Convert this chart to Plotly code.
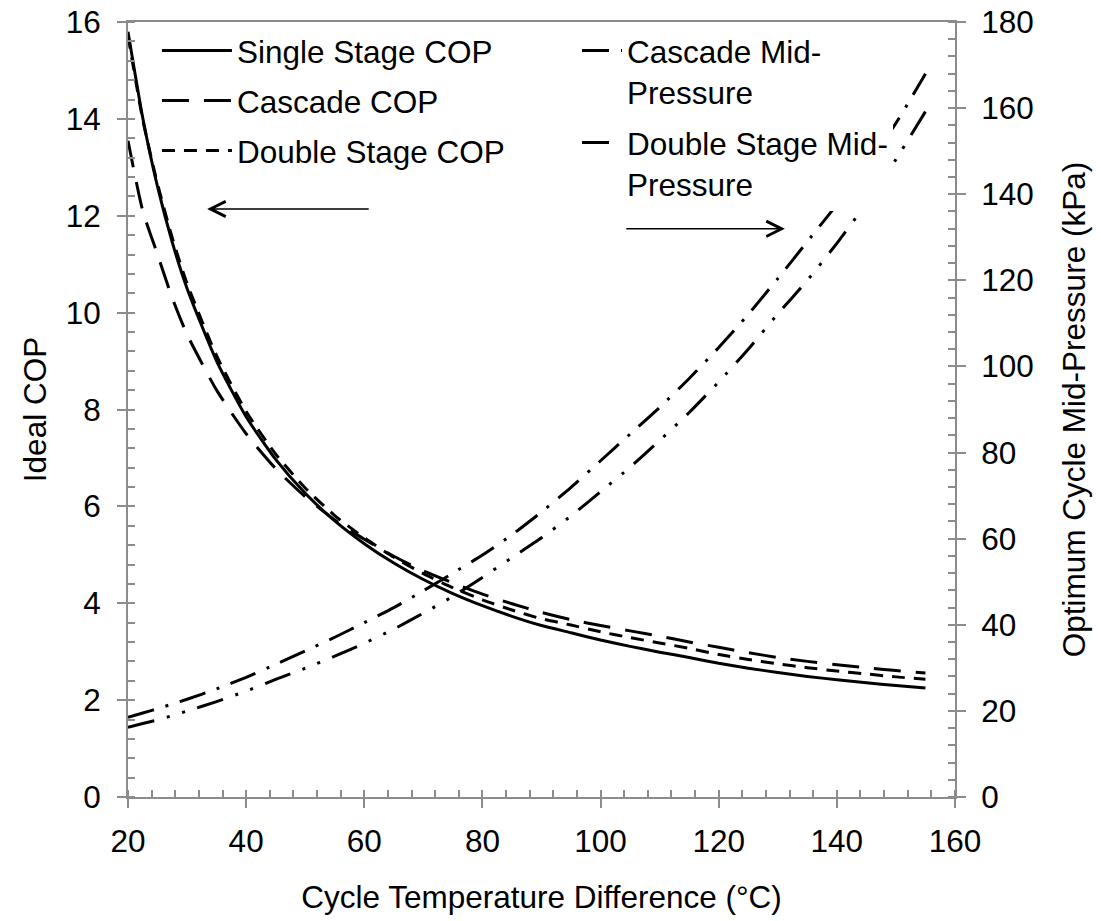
import plotly.graph_objects as go

# ---- data ----
dT = [20, 22.5, 25, 27.5, 30, 35, 40, 45, 50, 55, 60, 65, 70, 75, 80, 85, 90, 95,
      100, 105, 110, 115, 120, 125, 130, 135, 140, 145, 150, 155]
single_cop = [15.8, 14.02, 12.6, 11.45, 10.5, 9.0, 7.85, 6.97, 6.27, 5.70, 5.23, 4.83,
              4.49, 4.20, 3.95, 3.73, 3.54, 3.39, 3.24, 3.11, 2.99, 2.88, 2.76, 2.66,
              2.57, 2.49, 2.42, 2.36, 2.30, 2.25]
cascade_cop = [13.55, 12.1, 11.2, 10.3, 9.55, 8.40, 7.50, 6.78, 6.20, 5.72, 5.32, 4.97,
               4.67, 4.42, 4.19, 3.99, 3.81, 3.66, 3.54, 3.43, 3.32, 3.20, 3.09, 2.98,
               2.88, 2.80, 2.73, 2.67, 2.61, 2.56]
double_cop = [15.72, 13.98, 12.66, 11.54, 10.6, 9.11, 7.96, 7.08, 6.38, 5.81, 5.35, 4.95,
              4.61, 4.32, 4.07, 3.86, 3.68, 3.55, 3.41, 3.29, 3.18, 3.07, 2.94, 2.84,
              2.75, 2.67, 2.60, 2.54, 2.48, 2.43]
cascade_mid = [18.5, 19.5, 20.5, 21.6, 22.7, 25.1, 27.8, 30.8, 33.9, 37.1, 40.5, 44.0,
               47.9, 52.0, 56.2, 60.9, 66.2, 71.9, 78.1, 84.3, 90.5, 97.2, 104.4, 112.1,
               120.4, 129.0, 137.6, 146.5, 156.5, 168.0]
double_mid = [16.2, 17.06, 17.9, 18.9, 19.96, 22.15, 24.6, 27.3, 29.9, 32.7, 35.7, 39.0,
              42.7, 46.6, 51.0, 55.6, 60.2, 65.3, 70.9, 76.6, 82.8, 89.3, 96.4, 104.0,
              112.2, 120.0, 128.6, 137.9, 148.1, 159.2]

names = ["Single Stage COP", "Cascade COP", "Double Stage COP",
         "Cascade Mid-<br>Pressure", "Double Stage Mid-<br>Pressure"]

FONT = "Liberation Sans, Arial, sans-serif"
FS = 31.5
AX = "#8c8c8c"
LW = 3

fig = go.Figure()
cop_series = [(single_cop, "solid"), (cascade_cop, "27px,15px"), (double_cop, "13px,9px")]
for i, (vals, dash) in enumerate(cop_series):
    fig.add_trace(go.Scatter(x=dT, y=vals, mode="lines", name=names[i],
                             line=dict(color="black", width=LW, dash=dash, shape="spline", smoothing=0.6),
                             legend="legend", legendgroup=f"g{i}", xaxis="x", yaxis="y"))
mid_series = [(cascade_mid, "27px,12px,3px,12px"), (double_mid, "27px,13px,3px,13px,3px,13px")]
for j, (vals, dash) in enumerate(mid_series):
    fig.add_trace(go.Scatter(x=dT, y=vals, mode="lines", name=names[3 + j],
                             line=dict(color="black", width=LW, dash=dash, shape="spline", smoothing=0.6),
                             legend="legend2", legendgroup=f"m{j}", xaxis="x", yaxis="y2"))

common = dict(showgrid=False, zeroline=False, color="black", tickcolor=AX, tickwidth=2,
              linecolor=AX, linewidth=2, automargin=False,
              tickfont=dict(size=FS, family=FONT, color="black"))
inner = dict(ticks="inside", ticklen=8, tickcolor=AX, tickwidth=2, showticklabels=False,
             showline=False, showgrid=False, zeroline=False, automargin=False)

fig.update_layout(
    width=1101, height=921,
    margin=dict(l=128, r=146, t=22, b=124, autoexpand=False),
    paper_bgcolor="white", plot_bgcolor="rgba(0,0,0,0)",
    font=dict(family=FONT, size=FS, color="black"),
    xaxis=dict(range=[20, 160], tick0=20, dtick=20, ticks="outside", ticklen=9, showline=True,
               mirror=True, ticklabelstandoff=6,
               minor=dict(dtick=4, ticks="inside", ticklen=7, tickcolor=AX, tickwidth=2),
               title=dict(text="Cycle Temperature Difference (°C)", font=dict(size=FS), standoff=28),
               **common),
    yaxis=dict(range=[0, 16], dtick=2, ticks="outside", ticklen=9, showline=True,
               ticklabelstandoff=10,
               minor=dict(dtick=0.4, ticks="inside", ticklen=7, tickcolor=AX, tickwidth=2),
               title=dict(text="Ideal COP", font=dict(size=FS), standoff=10),
               **common),
    yaxis2=dict(range=[0, 180], dtick=20, ticks="outside", ticklen=9, showline=True,
                overlaying="y", side="right", anchor="x", ticklabelstandoff=9,
                minor=dict(dtick=4, ticks="inside", ticklen=7, tickcolor=AX, tickwidth=2),
                title=dict(text="Optimum Cycle Mid-Pressure (kPa)", font=dict(size=FS), standoff=30),
                **common),
    # inner halves of the crossing major ticks
    xaxis2=dict(range=[20, 160], tick0=20, dtick=20, overlaying="x", side="bottom", anchor="y", **inner),
    yaxis3=dict(range=[0, 16], dtick=2, overlaying="y", side="left", anchor="x", **inner),
    yaxis4=dict(range=[0, 180], dtick=20, overlaying="y", side="right", anchor="x", **inner),
    legend=dict(x=0.035, y=0.998, xanchor="left", yanchor="top", bgcolor="white",
                font=dict(size=FS, family=FONT), itemwidth=70, tracegroupgap=6,
                traceorder="grouped"),
    legend2=dict(x=0.925, y=0.998, xanchor="right", yanchor="top", bgcolor="white",
                 font=dict(size=FS, family=FONT), itemwidth=40, tracegroupgap=7,
                 valign="top", traceorder="grouped"),
    showlegend=True,
)

# arrows pointing to the relevant axes
fig.add_annotation(x=33.4, y=12.14, ax=61.0, ay=12.14, xref="x", yref="y", axref="x", ayref="y",
                   text="", showarrow=True, arrowhead=5, arrowsize=2, arrowwidth=1.5,
                   arrowcolor="black")
fig.add_annotation(x=131.2, y=11.73, ax=104.1, ay=11.73, xref="x", yref="y", axref="x", ayref="y",
                   text="", showarrow=True, arrowhead=5, arrowsize=2, arrowwidth=1.5,
                   arrowcolor="black")

fig.write_html("out.html")
